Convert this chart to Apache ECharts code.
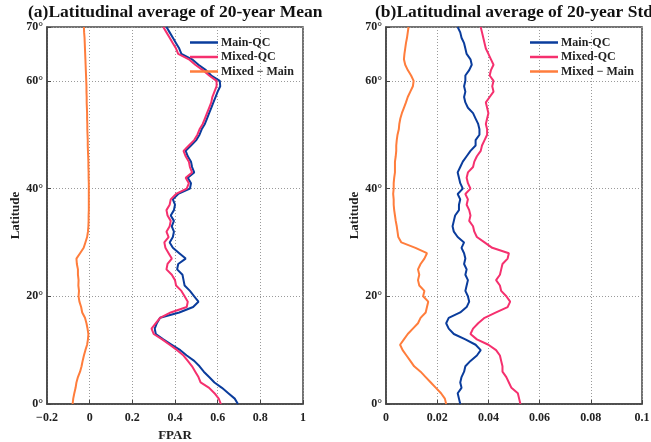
<!DOCTYPE html>
<html>
<head>
<meta charset="utf-8">
<script src="https://cdn.jsdelivr.net/npm/echarts@6/dist/echarts.min.js"></script>
<style>
  html, body { margin: 0; padding: 0; background: #fff; }
  #chart { width: 651px; height: 442px; }
</style>
</head>
<body>
<div id="chart"></div>
<script>
// latitude sampling (degrees)
var lats = [0,1,2,3,4,5,6,7,8,9,10,11,12,13,14,15,16,17,18,19,20,21,22,23,24,25,26,27,28,29,30,
  31,32,33,34,35,36,37,38,39,40,41,42,43,44,45,46,47,48,49,50,51,52,53,54,55,56,57,58,59,60,
  61,62,63,64,65,66,67,68,69,70];

// (a) 20-year mean FPAR
var meanMain = [0.695,0.68,0.65,0.62,0.585,0.56,0.535,0.515,0.49,0.455,0.425,0.385,0.345,0.31,0.305,0.315,0.33,0.42,0.485,0.51,0.49,
  0.47,0.445,0.44,0.435,0.41,0.415,0.45,0.42,0.39,0.375,0.39,0.395,0.385,0.395,0.38,0.395,0.4,0.39,0.415,0.47,
  0.475,0.46,0.49,0.48,0.475,0.46,0.45,0.475,0.5,0.515,0.525,0.54,0.55,0.56,0.57,0.58,0.59,0.6,0.612,0.61,
  0.57,0.545,0.51,0.48,0.43,0.42,0.405,0.39,0.375,0.36];
var meanMixed = [0.615,0.605,0.585,0.56,0.52,0.51,0.495,0.48,0.46,0.44,0.41,0.375,0.34,0.3,0.29,0.31,0.33,0.38,0.455,0.46,0.445,
  0.43,0.405,0.4,0.385,0.36,0.365,0.385,0.37,0.355,0.35,0.37,0.36,0.375,0.38,0.365,0.36,0.375,0.38,0.405,0.455,
  0.465,0.45,0.48,0.47,0.465,0.45,0.44,0.465,0.49,0.505,0.515,0.53,0.54,0.55,0.56,0.57,0.575,0.585,0.595,0.595,
  0.56,0.53,0.495,0.465,0.415,0.405,0.39,0.375,0.36,0.345];
var meanDiff = [-0.08,-0.077,-0.072,-0.066,-0.062,-0.055,-0.045,-0.038,-0.033,-0.027,-0.02,-0.012,-0.008,-0.006,-0.01,-0.015,-0.022,-0.035,-0.04,-0.048,-0.052,
  -0.05,-0.053,-0.052,-0.055,-0.055,-0.06,-0.062,-0.045,-0.028,-0.02,-0.012,-0.008,-0.006,-0.005,-0.005,-0.004,-0.004,-0.004,-0.004,-0.004,
  -0.004,-0.005,-0.005,-0.006,-0.006,-0.007,-0.008,-0.009,-0.009,-0.01,-0.011,-0.011,-0.012,-0.012,-0.013,-0.014,-0.014,-0.015,-0.015,-0.016,
  -0.017,-0.018,-0.019,-0.02,-0.021,-0.022,-0.023,-0.024,-0.026,-0.027];

// (b) 20-year std of FPAR
var stdMain = [0.029,0.0285,0.028,0.0295,0.029,0.0295,0.0305,0.031,0.033,0.0355,0.037,0.035,0.031,0.0265,0.0245,0.0235,0.0245,0.029,0.0315,0.0325,0.032,
  0.031,0.0315,0.032,0.031,0.0315,0.0305,0.031,0.0305,0.0295,0.0305,0.028,0.0265,0.026,0.0265,0.027,0.0285,0.0285,0.029,0.028,0.03,
  0.029,0.0285,0.028,0.029,0.03,0.0315,0.033,0.035,0.035,0.0365,0.0365,0.036,0.035,0.034,0.032,0.031,0.0305,0.031,0.0305,0.031,
  0.031,0.0325,0.0335,0.033,0.0315,0.031,0.0305,0.0295,0.029,0.028];
var stdMixed = [0.0525,0.052,0.0515,0.049,0.048,0.047,0.0455,0.0455,0.045,0.0445,0.043,0.04,0.0355,0.033,0.034,0.036,0.0385,0.043,0.0475,0.0485,0.047,
  0.045,0.0445,0.043,0.0445,0.045,0.0455,0.0475,0.048,0.0415,0.0385,0.0355,0.0345,0.034,0.0325,0.033,0.0325,0.0315,0.032,0.031,0.033,
  0.032,0.0315,0.032,0.034,0.0345,0.0355,0.037,0.0375,0.0385,0.0395,0.0395,0.039,0.0395,0.04,0.0395,0.039,0.0405,0.042,0.0415,0.042,
  0.0405,0.041,0.042,0.041,0.04,0.039,0.0385,0.038,0.0375,0.037];
var stdDiff = [0.0235,0.023,0.0215,0.0195,0.0175,0.0155,0.0135,0.011,0.0095,0.008,0.0065,0.0055,0.007,0.0085,0.0105,0.0125,0.0135,0.0155,0.016,0.0165,0.0145,
  0.015,0.013,0.0125,0.013,0.0125,0.0135,0.015,0.016,0.0115,0.006,0.0048,0.0045,0.0042,0.0038,0.0035,0.0032,0.003,0.003,0.0028,0.003,
  0.003,0.0032,0.0035,0.0035,0.0035,0.0038,0.004,0.004,0.0042,0.0045,0.005,0.0052,0.0056,0.0062,0.007,0.0078,0.0085,0.0095,0.0105,0.0108,
  0.0098,0.0085,0.0075,0.007,0.0072,0.0075,0.0078,0.0082,0.0085,0.0088];

var names = ['Main-QC', 'Mixed-QC', 'Mixed \u2212 Main'];
var colors = ['#0a3c9c', '#f5306e', '#ff7d3c'];

var font = 'Liberation Serif';

var pairs = function(vals){
    return vals.map(function(v, i){ return [v, lats[i]]; });
};

var makeSeries = function(vals, k, idx){
    return {
        name: names[k],
        type: 'line',
        xAxisIndex: idx,
        yAxisIndex: idx,
        symbol: 'none',
        smooth: false,
        lineStyle: { color: colors[k], width: 2 },
        itemStyle: { color: colors[k] },
        data: pairs(vals)
    };
};

var xAxisOf = function(idx, min, max, step, name){
    return {
        type: 'value', gridIndex: idx, min: min, max: max, interval: step,
        name: name, nameLocation: 'middle', nameGap: 24,
        nameTextStyle: { fontFamily: font, fontWeight: 'bold', fontSize: 13, color: '#222' },
        axisLine: { show: true, onZero: false, lineStyle: { color: '#444', width: 1.5 } },
        axisTick: { show: true, inside: true, length: 4, lineStyle: { color: '#444' } },
        axisLabel: {
            fontFamily: font, fontWeight: 'bold', fontSize: 12, color: '#222', margin: 8,
            formatter: function(v){ return (v < 0 ? '\u2212' + (-v) : String(+v.toFixed(4))); }
        },
        splitLine: { show: true, lineStyle: { color: '#9a9a9a', type: [1, 2], width: 1 } }
    };
};

var yAxisOf = function(idx){
    return {
        type: 'value', gridIndex: idx, min: 0, max: 70, interval: 20,
        name: 'Latitude', nameLocation: 'middle', nameGap: 20,
        nameTextStyle: { fontFamily: font, fontWeight: 'bold', fontSize: 13, color: '#222' },
        axisLine: { show: true, onZero: false, lineStyle: { color: '#444', width: 1.5 } },
        axisTick: { show: true, inside: true, length: 4, lineStyle: { color: '#444' } },
        axisLabel: {
            fontFamily: font, fontWeight: 'bold', fontSize: 12, color: '#222', margin: 4,
            formatter: function(v){ return v + '\u00b0'; }
        },
        splitLine: { show: true, lineStyle: { color: '#9a9a9a', type: [1, 2], width: 1 } }
    };
};

var legendOf = function(left){
    return {
        left: left, top: 36.5, orient: 'vertical', padding: 0,
        icon: 'rect', itemWidth: 28, itemHeight: 2.5, itemGap: 2.5,
        data: names,
        textStyle: { fontFamily: font, fontWeight: 'bold', fontSize: 12, color: '#222', padding: [0, 0, 0, -2] }
    };
};

var chart = echarts.init(document.getElementById('chart'));
chart.setOption({
    animation: false,
    backgroundColor: '#fff',
    title: [
        { text: '(a)Latitudinal average of 20-year Mean', left: 28, top: 3, padding: 0,
          textStyle: { fontFamily: font, fontWeight: 'bold', fontSize: 17.5, color: '#111' } },
        { text: '(b)Latitudinal average of 20-year Std', left: 375, top: 3, padding: 0,
          textStyle: { fontFamily: font, fontWeight: 'bold', fontSize: 17.5, color: '#111' } }
    ],
    legend: [legendOf(190), legendOf(530)],
    grid: [
        { left: 47, right: 348, top: 27, bottom: 38, outerBoundsMode: 'none',
          show: true, borderColor: '#444', borderWidth: 1.5 },
        { left: 386, right: 9, top: 27, bottom: 38, outerBoundsMode: 'none',
          show: true, borderColor: '#444', borderWidth: 1.5 }
    ],
    xAxis: [xAxisOf(0, -0.2, 1, 0.2, 'FPAR'), xAxisOf(1, 0, 0.1, 0.02, '')],
    yAxis: [yAxisOf(0), yAxisOf(1)],
    series: [
        makeSeries(meanMain, 0, 0),
        makeSeries(meanMixed, 1, 0),
        makeSeries(meanDiff, 2, 0),
        makeSeries(stdMain, 0, 1),
        makeSeries(stdMixed, 1, 1),
        makeSeries(stdDiff, 2, 1)
    ]
});
</script>
</body>
</html>
